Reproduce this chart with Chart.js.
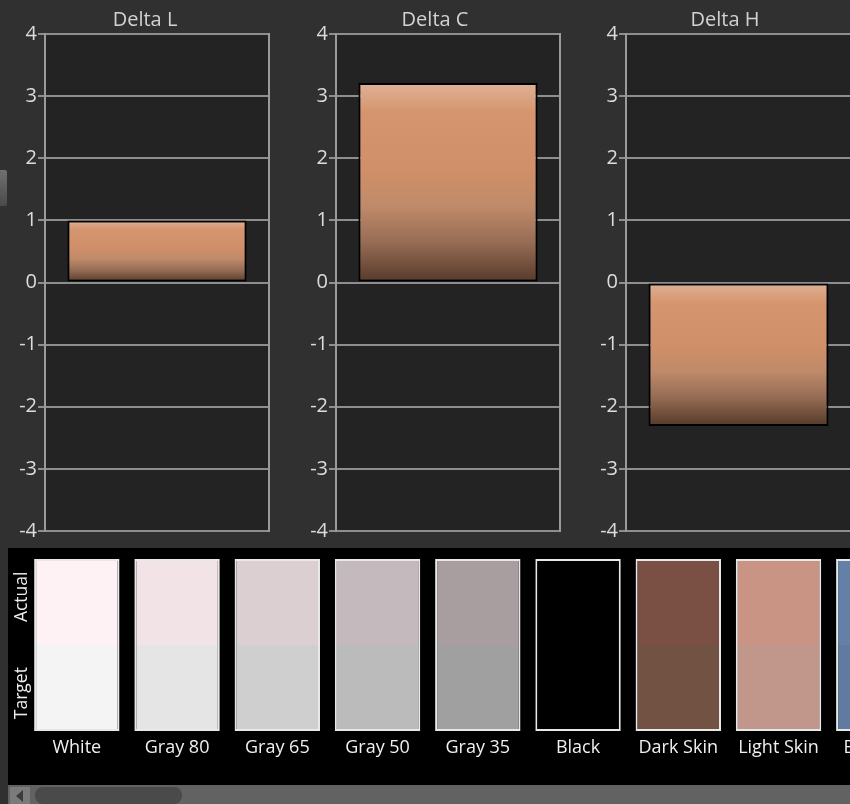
<!DOCTYPE html>
<html lang="en">
<head>
  <meta charset="UTF-8" />
  <title>Delta LCH</title>
  <script src="https://cdn.jsdelivr.net/npm/chart.js"></script>
  <style>
    html, body {
      margin: 0;
      overflow: hidden;
    }
    body {
      position: relative;
      width: 850px;
      height: 804px;
      background-color: #303030;
      font-family: 'Open Sans', sans-serif;
    }
    .delta {
      position: absolute;
      top: 0;
      width: 290px;
      height: 548px;
    }
    #swatchBox {
      position: absolute;
      left: 8px;
      top: 548px;
      width: 930px;
      height: 237px;
      background: #000;
    }
    #sideButton {
      position: absolute;
      left: 0;
      top: 170px;
      width: 7px;
      height: 36px;
      background: linear-gradient(#707070, #4a4a4a);
      border-radius: 0 2px 2px 0;
    }
    #scrollbar {
      position: absolute;
      left: 8px;
      top: 785px;
      width: 842px;
      height: 19px;
      background: #626262;
    }
    #scrollLeft {
      position: absolute;
      left: 2px;
      top: 2px;
      width: 20px;
      height: 17px;
      background: #7b7b7b;
    }
    #scrollLeft:after {
      content: "";
      position: absolute;
      left: 6px;
      top: 3px;
      border-style: solid;
      border-width: 6px 7px 6px 0;
      border-color: transparent #3c3c3c transparent transparent;
    }
    #scrollThumb {
      position: absolute;
      left: 27px;
      top: 2px;
      width: 147px;
      height: 17px;
      background: #4a4a4a;
      border-radius: 8px;
    }
  </style>
</head>
<body>

<div class="delta" style="left:0px"><canvas id="deltaL"></canvas></div>
<div class="delta" style="left:290px"><canvas id="deltaC"></canvas></div>
<div class="delta" style="left:580px"><canvas id="deltaH"></canvas></div>
<div id="sideButton"></div>

<div id="swatchBox"><canvas id="swatchChart"></canvas></div>
<div id="scrollbar"><div id="scrollLeft"></div><div id="scrollThumb"></div></div>

<script>
// --- data ---
const deltaTitles = ['Delta L', 'Delta C', 'Delta H'];
const deltaValues = [1.0, 3.21, -2.31];
const deltaMin = -4;
const deltaMax = 4;

const swatchNames = ['White', 'Gray 80', 'Gray 65', 'Gray 50', 'Gray 35', 'Black', 'Dark Skin', 'Light Skin', 'Blue Sky'];
const actualColors = ['#fff2f4', '#f1e3e6', '#dccfd2', '#c4b9bc', '#a89ea0', '#000000', '#7a5044', '#c99483', '#6580a7'];
const targetColors = ['#f4f4f4', '#e5e5e5', '#cfcfcf', '#bbbbbb', '#a0a0a0', '#000000', '#725243', '#c0978a', '#607b9f'];
const targetShare = [1, 1, 1, 1, 1, 1, 1, 1, 1];
const actualShare = [1, 1, 1, 1, 1, 1, 1, 1, 1];
const sideLabels = ['Target', 'Actual'];

// layout of the three delta panels (axis widths so the plot boxes line up)
const deltaIds = ['deltaL', 'deltaC', 'deltaH'];
const leftAxisWidth = [45, 46, 46];
const rightGap = [21, 20, 19];

Chart.defaults.font.family = "'Open Sans', sans-serif";

// fills the plot box and draws its right edge
const plotFrame = {
  id: 'plotFrame',
  beforeDraw(chart, args, opts) {
    const { ctx, chartArea: a } = chart;
    ctx.save();
    ctx.fillStyle = opts.fill;
    ctx.fillRect(a.left, a.top, a.width, a.height);
    ctx.restore();
  },
  beforeDatasetsDraw(chart, args, opts) {
    const { ctx, chartArea: a } = chart;
    ctx.save();
    ctx.strokeStyle = opts.color;
    ctx.lineWidth = 2;
    ctx.beginPath();
    ctx.moveTo(a.right, a.top - 1);
    ctx.lineTo(a.right, a.bottom + 1);
    ctx.stroke();
    ctx.restore();
  }
};

// copper gradient, light on top and dark at the bottom of each bar
function barGradient(context) {
  const chart = context.chart;
  const { ctx, chartArea, scales } = chart;
  if (!chartArea || !scales.y) return '#d0906a';
  const y0 = scales.y.getPixelForValue(0);
  const y1 = scales.y.getPixelForValue(context.raw);
  const top = Math.min(y0, y1);
  const bot = Math.max(y0, y1);
  const g = ctx.createLinearGradient(0, top, 0, bot);
  g.addColorStop(0, '#dfb296');
  g.addColorStop(0.14, '#d5966f');
  g.addColorStop(0.45, '#cf8f68');
  g.addColorStop(0.62, '#bf8a69');
  g.addColorStop(0.8, '#966c55');
  g.addColorStop(0.93, '#6c4b38');
  g.addColorStop(1, '#54392a');
  return g;
}

deltaIds.forEach((id, i) => {
  new Chart(document.getElementById(id), {
    type: 'bar',
    data: {
      labels: [''],
      datasets: [{
        data: [deltaValues[i]],
        backgroundColor: barGradient,
        borderColor: '#000000',
        borderWidth: 2,
        borderSkipped: false,
        barPercentage: 0.8,
        categoryPercentage: 1
      }]
    },
    options: {
      responsive: true,
      maintainAspectRatio: false,
      animation: false,
      layout: { padding: { left: 0, right: 0, top: 0, bottom: 17 } },
      plugins: {
        legend: { display: false },
        tooltip: { enabled: false },
        title: {
          display: true,
          text: deltaTitles[i],
          color: '#d2d2d2',
          font: { size: 20, weight: 'normal' },
          padding: { top: 8, bottom: 2 }
        },
        plotFrame: { fill: '#232323', color: '#9a9a9a' }
      },
      scales: {
        x: { display: false },
        y: {
          min: deltaMin,
          max: deltaMax,
          ticks: { stepSize: 1, color: '#dcdcdc', font: { size: 20 }, padding: 1 },
          grid: { color: '#8e8e8e', lineWidth: 2, tickLength: 7 },
          border: { color: '#9a9a9a', width: 2 },
          afterFit(scale) { scale.width = leftAxisWidth[i]; }
        },
        gap: {
          position: 'right',
          ticks: { display: false },
          grid: { display: false, drawTicks: false },
          border: { display: false },
          afterFit(scale) { scale.width = rightGap[i]; }
        }
      }
    },
    plugins: [plotFrame]
  });
});

// rotated "Actual" / "Target" captions
const sideCaptions = {
  id: 'sideCaptions',
  afterDraw(chart, args, opts) {
    const { ctx, chartArea: a, scales: { y } } = chart;
    ctx.save();
    ctx.fillStyle = opts.color;
    ctx.font = opts.font;
    ctx.textAlign = 'center';
    ctx.textBaseline = 'middle';
    opts.labels.forEach((t, i) => {
      const yy = y.getPixelForValue(i === 0 ? 0.44 : 1.56);
      ctx.save();
      ctx.translate(a.left - 5, yy);
      ctx.rotate(-Math.PI / 2);
      ctx.fillText(t, 0, 0);
      ctx.restore();
    });
    ctx.restore();
  }
};

new Chart(document.getElementById('swatchChart'), {
  type: 'bar',
  data: {
    labels: swatchNames,
    datasets: [
      {
        label: 'Target',
        data: targetShare,
        backgroundColor: targetColors,
        borderColor: '#e8e8e8',
        borderWidth: { left: 2, right: 2, bottom: 2, top: 0 },
        borderSkipped: false,
        barPercentage: 0.852,
        categoryPercentage: 1
      },
      {
        label: 'Actual',
        data: actualShare,
        backgroundColor: actualColors,
        borderColor: '#e8e8e8',
        borderWidth: { left: 2, right: 2, top: 2, bottom: 0 },
        borderSkipped: false,
        barPercentage: 0.852,
        categoryPercentage: 1
      }
    ]
  },
  options: {
    responsive: true,
    maintainAspectRatio: false,
    animation: false,
    layout: { padding: { left: 18.7, right: 9.1, top: 11, bottom: 0 } },
    plugins: {
      legend: { display: false },
      tooltip: { enabled: false },
      sideCaptions: { labels: sideLabels, color: '#ededed', font: "17.5px 'Open Sans', sans-serif" }
    },
    scales: {
      x: {
        stacked: true,
        grid: { display: false, drawTicks: false },
        border: { display: false },
        ticks: { color: '#f0f0f0', font: { size: 18 }, padding: 6, maxRotation: 0, autoSkip: false },
        afterFit(scale) { scale.height = 54; }
      },
      y: { stacked: true, display: false, min: 0, max: 2 }
    }
  },
  plugins: [sideCaptions]
});
</script>

</body>
</html>
